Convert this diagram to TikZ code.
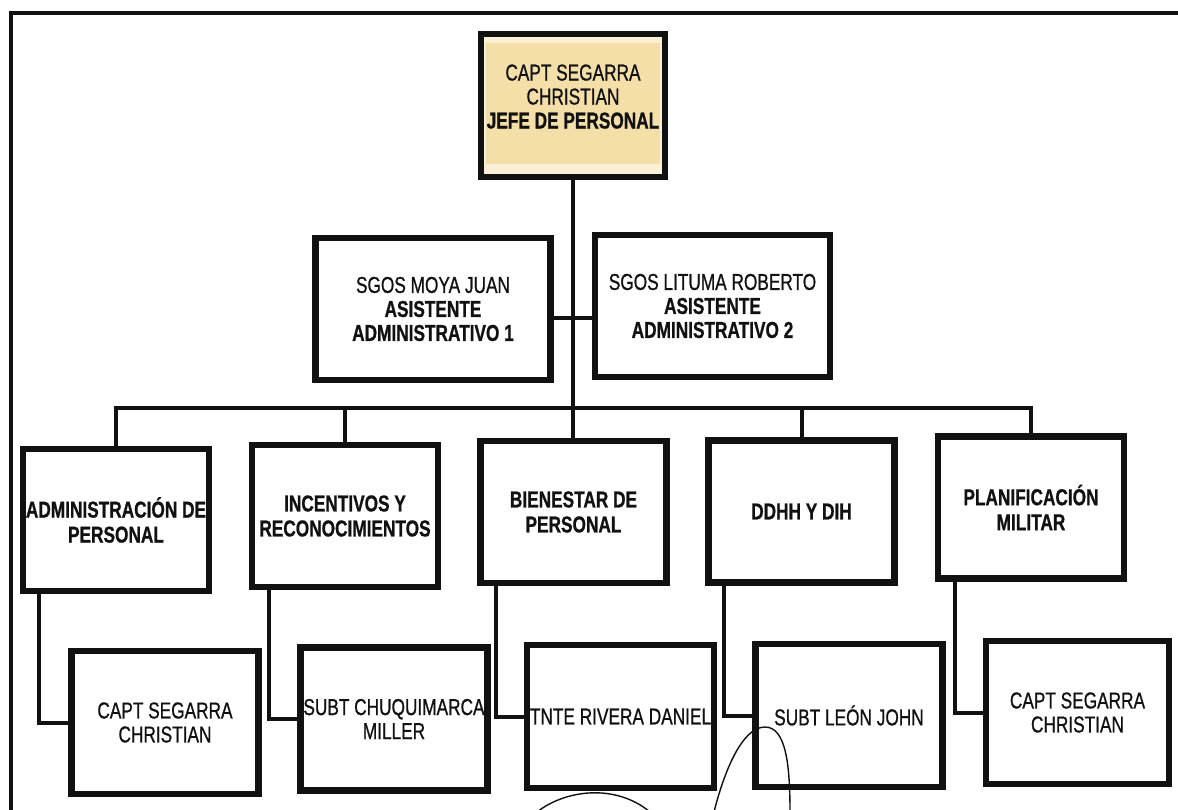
\documentclass[tikz,border=0pt]{standalone}
\usepackage{fontspec}
\setmainfont{Liberation Sans}[FakeStretch=0.75, UprightFeatures={FakeBold=0.8}, BoldFeatures={FakeBold=0.8}]
\definecolor{ink}{HTML}{111111}
\definecolor{chiefpale}{HTML}{FAF0D6}
\definecolor{chieffill}{HTML}{F4DFA9}
\begin{document}
\begin{tikzpicture}[x=1pt,y=-1pt,
  box/.style={draw=ink, line width=6.5pt, rectangle, align=center, inner sep=0pt,
    text=ink, font=\fontsize{23}{24}\selectfont,
    minimum width=186pt, minimum height=142pt},
  chief/.style={box, minimum width=184pt, minimum height=143pt, fill=chiefpale,
    path picture={\fill[chieffill]
      ([shift={(5pt,-9pt)}]path picture bounding box.north west) rectangle
      ([shift={(-5pt,13pt)}]path picture bounding box.south east);}},
  assist/.style={box, minimum width=235pt, minimum height=142pt},
  unit/.style={box, font=\fontsize{23}{25}\selectfont\bfseries},
  member/.style={box, minimum width=187pt, minimum height=143pt},
  link/.style={draw=ink, line width=4pt},
  frame/.style={draw=ink, line width=4pt},
  ink stroke/.style={draw=ink, line width=1.4pt, line cap=round}]

\useasboundingbox (0,0) rectangle (1178,810);
\clip (0,0) rectangle (1178,810);
\fill[white] (0,0) rectangle (1178,810);

% sheet border (top and left edges)
\draw[frame] (11,830) -- (11,13) -- (1200,13);

% head of personnel (empty last line lifts the text block)
\node[chief] (top) at (573,105.5) {CAPT SEGARRA\\CHRISTIAN\\\textbf{JEFE DE PERSONAL}\\[-6pt]\mbox{}};

% administrative assistants
\node[assist] (a1) at (433,309) {SGOS MOYA JUAN\\\textbf{ASISTENTE}\\\textbf{ADMINISTRATIVO 1}};
\node[assist] (a2) at (712.5,306) {SGOS LITUMA ROBERTO\\\textbf{ASISTENTE}\\\textbf{ADMINISTRATIVO 2}};

% sections
\node[unit] (b1) at (116,520)     {ADMINISTRACIÓN DE\\PERSONAL};
\node[unit] (b2) at (345,516)     {INCENTIVOS Y\\RECONOCIMIENTOS};
\node[unit] (b3) at (573.5,512)   {BIENESTAR DE\\PERSONAL};
\node[unit] (b4) at (801.5,511.5) {DDHH Y DIH};
\node[unit] (b5) at (1031,507.5)  {PLANIFICACIÓN\\MILITAR};

% officers in charge
\node[member] (c1) at (165,722.5)  {CAPT SEGARRA\\CHRISTIAN};
\node[member] (c2) at (394,719)    {SUBT CHUQUIMARCA\\MILLER};
\node[member] (c3) at (620.5,716.5){TNTE RIVERA DANIEL};
\node[member] (c4) at (849,715.5)  {SUBT LEÓN JOHN};
\node[member, minimum width=183pt] (c5) at (1077.5,712.5) {CAPT SEGARRA\\CHRISTIAN};

% trunk from the head down to the central section
\draw[link] (top.south) -- (b3.north -| top.south);

% assistants branch
\draw[link] ([yshift=-9pt]a1.east) -- ([yshift=-9pt]a1.east -| a2.west);

% distribution bus
\coordinate (bus) at (573,408);
\draw[link] (b1.north) -- (b1.north |- bus) -- (b5.north |- bus) -- (b5.north);
\draw[link] (b2.north |- bus) -- (b2.north);
\draw[link] (b4.north |- bus) -- (b4.north);

% section to officer links
\draw[link] ([xshift=19pt]b1.south west) |- (c1.west);
\draw[link] ([xshift=20pt]b2.south west) |- (c2.west);
\draw[link] ([xshift=19pt]b3.south west) |- (c3.west);
\draw[link] ([xshift=19pt]b4.south west) |- (c4.west);
\draw[link] ([xshift=20pt]b5.south west) |- (c5.west);

% handwritten signature strokes
\draw[ink stroke] (537,812) .. controls (565,790) and (615,783) .. (650,812);
\draw[ink stroke] (714,812) .. controls (724,772) and (742,727) .. (765,727)
  .. controls (786,727) and (790,765) .. (790,812);
\end{tikzpicture}
\end{document}
